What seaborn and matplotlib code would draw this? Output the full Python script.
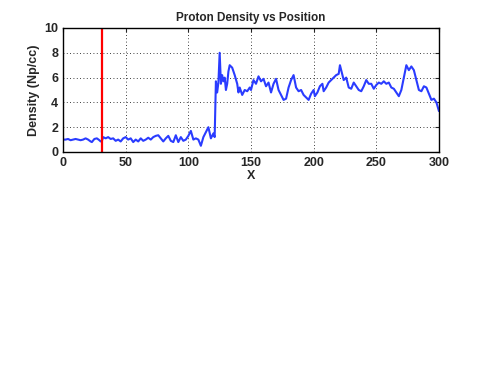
import matplotlib
matplotlib.use("Agg")
import matplotlib.pyplot as plt
import seaborn as sns
import pandas as pd

x_pos = [0, 2, 4, 6, 8, 10, 12, 14, 16, 18, 20, 22, 23, 25, 27, 29, 30, 31, 32, 34, 36, 38, 40,
         42, 44, 46, 48, 50, 52, 54, 56, 58, 60, 62, 64, 66, 68, 70, 72, 74, 76, 78, 80, 82, 84,
         86, 88, 90, 92, 94, 96, 98, 100, 102, 104, 106, 108, 110, 112, 114, 116, 118, 120, 121,
         122, 123, 124, 125, 126, 127, 128, 129, 130, 131, 132, 133, 135, 137, 139, 140, 141, 143,
         145, 147, 149, 150, 152, 154, 156, 158, 160, 162, 164, 166, 168, 170, 172, 174, 176, 178,
         180, 182, 184, 186, 188, 190, 192, 194, 196, 198, 200, 201, 203, 205, 207, 208, 210, 212,
         214, 216, 218, 220, 221, 223, 224, 226, 228, 230, 232, 234, 236, 238, 240, 242, 244, 246,
         248, 250, 252, 254, 256, 258, 260, 262, 264, 266, 268, 270, 272, 274, 276, 278, 280, 282,
         284, 286, 288, 290, 292, 294, 296, 298, 300]
density = [1.0, 1.0, 1.05, 0.95, 1.0, 1.05, 1.0, 0.95, 1.0, 1.1, 1.0, 0.85, 0.8, 1.05, 1.1, 0.95,
           0.85, 0.9, 1.2, 1.1, 1.2, 1.05, 1.1, 0.9, 1.0, 0.85, 1.1, 1.2, 1.0, 1.1, 0.8, 1.0, 0.85,
           1.1, 0.9, 1.0, 1.15, 1.0, 1.2, 1.3, 1.35, 1.1, 0.85, 1.1, 1.3, 0.9, 0.8, 1.35, 0.8, 1.2,
           0.9, 1.0, 1.3, 1.7, 1.0, 1.1, 1.0, 0.5, 1.2, 1.6, 2.0, 1.1, 1.5, 1.2,
           5.7, 4.8, 5.6, 8.0, 5.5, 6.2, 5.7, 6.0, 5.0, 5.5, 6.5, 7.0, 6.8, 6.2, 5.5, 4.8, 5.2, 4.6,
           5.0, 4.9, 5.2, 5.0, 5.8, 5.5, 6.1, 5.7, 5.9, 5.3, 5.6, 4.8, 5.5, 5.9, 5.0, 4.6, 4.2, 4.3,
           5.2, 5.8, 6.2, 5.2, 4.9, 5.0, 4.6, 4.4, 4.2, 4.7, 5.0, 4.5, 4.8, 5.3, 5.5, 4.9, 5.2, 5.6,
           5.8, 6.0, 6.2, 6.3, 7.0, 6.2, 5.8, 6.0, 5.2, 5.1, 5.6, 5.3, 5.0, 4.9, 5.3, 5.8, 5.5, 5.5,
           5.1, 5.4, 5.6, 5.5, 5.7, 5.5, 5.6, 5.2, 5.1, 4.8, 4.5, 5.0, 6.0, 7.0, 6.6, 6.9, 6.6, 5.8,
           5.0, 4.9, 5.3, 5.2, 4.7, 4.2, 4.3, 4.0, 3.3]
marker_x = 31

df = pd.DataFrame({"X": x_pos, "Density": density})

sns.set_style("white")
plt.rcParams['font.family'] = ['Liberation Sans', 'DejaVu Sans']

fig = plt.figure(figsize=(4.85, 3.65), dpi=100)
ax = fig.add_axes([0.130, 0.5836, 0.775, 0.3397])
sns.lineplot(data=df, x="X", y="Density", ax=ax, color="#2a3cff", linewidth=1.5, estimator=None)
ax.axvline(marker_x, color="red", linewidth=1.6)

ax.set_xlim(0, 300)
ax.set_ylim(0, 10)
ax.set_xticks([0, 50, 100, 150, 200, 250, 300])
ax.set_yticks([0, 2, 4, 6, 8, 10])
ax.grid(True, color="black", linestyle=(0, (1, 3)), linewidth=0.6)
ax.tick_params(direction="in", top=True, right=True, length=3, width=0.8, labelsize=9)
for lab in ax.get_xticklabels() + ax.get_yticklabels():
    lab.set_fontweight("bold")
for s in ax.spines.values():
    s.set_color("black")
    s.set_linewidth(1.0)
ax.set_xlabel("X", fontsize=9, fontweight="bold", labelpad=1)
ax.set_ylabel("Density (Np/cc)", fontsize=9, fontweight="bold", labelpad=3)
ax.set_title("Proton Density vs Position", fontsize=8.5, fontweight="bold", pad=5)

fig.savefig("out.png", dpi=100)
